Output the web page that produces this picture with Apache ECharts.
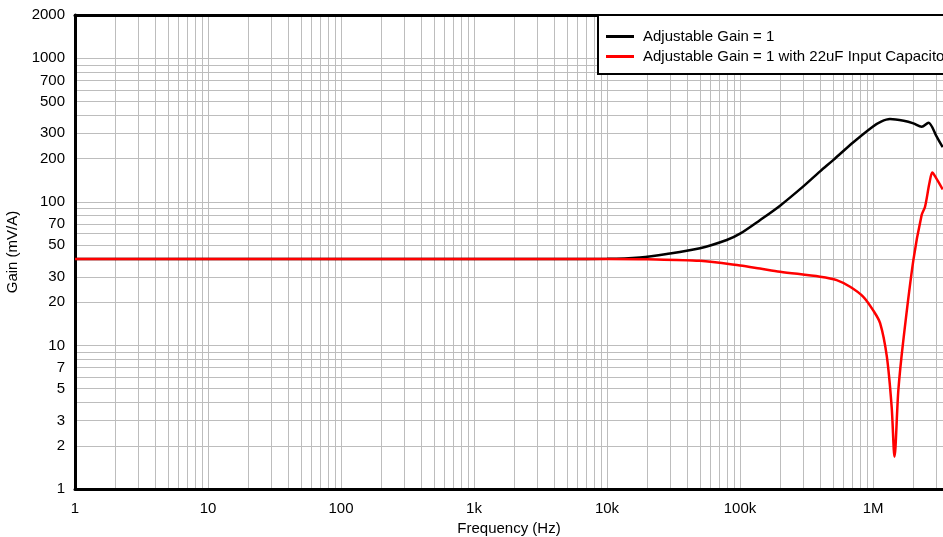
<!DOCTYPE html>
<html>
<head>
<meta charset="utf-8">
<title>Gain vs Frequency</title>
<script src="https://cdn.jsdelivr.net/npm/echarts@6/dist/echarts.min.js"></script>
<style>
  html, body { margin: 0; padding: 0; background: #fff; }
  #chart { width: 943px; height: 537px; }
</style>
</head>
<body>
<div id="chart"></div>
<script>
// black curve: Adjustable Gain = 1
var freqBase = [1, 10, 100, 1000, 5000, 10000, 17700, 28100, 50000, 79400, 100000,
  141000, 200000, 299000, 400000, 504000, 711000, 1000000, 1150000, 1340000, 1700000,
  2010000, 2320000, 2610000, 3010000, 3340000];
var gainBase = [40, 40, 40, 40, 40, 40.1, 41, 43.3, 47.5, 54.2, 60,
  74.5, 94, 128, 163, 196, 260, 335, 362, 377, 367,
  352, 333, 356, 284, 240];

// red curve: with 22uF input capacitor
var freqCap = [1, 10, 100, 1000, 10000, 20000, 50000, 100000, 141000, 200000, 400000,
  533000, 672000, 845000, 1000000, 1130000, 1270000, 1380000, 1450000, 1550000, 1690000,
  2010000, 2320000, 2460000, 2650000, 2790000, 2960000, 3340000];
var gainCap = [40, 40, 40, 40, 40, 39.8, 38.8, 36, 34.3, 32.6, 30.1,
  28.5, 25.6, 21.8, 17.6, 14.3, 8.35, 3.74, 1.68, 4.89, 10.9,
  39.3, 80.9, 92.5, 134, 160, 148, 122];

var xLabels = [1, 10, 100, 1000, 10000, 100000, 1000000];
var xGrid = [1, 2, 3, 4, 5, 6, 7, 8, 9, 10, 20, 30, 40, 50, 60, 70, 80, 90,
  100, 200, 300, 400, 500, 600, 700, 800, 900,
  1000, 2000, 3000, 4000, 5000, 6000, 7000, 8000, 9000,
  10000, 20000, 30000, 40000, 50000, 60000, 70000, 80000, 90000,
  100000, 200000, 300000, 400000, 500000, 600000, 700000, 800000, 900000,
  1000000, 2000000, 3000000];
var yLabels = [1, 2, 3, 5, 7, 10, 20, 30, 50, 70, 100, 200, 300, 500, 700, 1000, 2000];
var yGrid = [1, 2, 3, 4, 5, 6, 7, 8, 9, 10, 20, 30, 40, 50, 60, 70, 80, 90,
  100, 200, 300, 400, 500, 600, 700, 800, 900, 1000, 2000];

var xMax = 3357000;

function freqName(v) {
  if (v >= 1000000) return (v / 1000000) + 'M';
  if (v >= 1000) return (v / 1000) + 'k';
  return '' + v;
}

function pairs(xs, ys) {
  return xs.map(function (x, i) { return [x, ys[i]]; });
}

var font = 'Liberation Sans, Arial, sans-serif';

var myChart = echarts.init(document.getElementById('chart')),
  option = {
    animation: false,
    grid: {
      left: 75,
      right: 0,
      top: 15,
      bottom: 48,
      outerBoundsMode: 'none'
    },
    legend: {
      orient: 'vertical',
      left: 598,
      top: 15,
      backgroundColor: '#fff',
      borderColor: '#000',
      borderWidth: 2,
      borderRadius: 0,
      padding: [14, 400, 10, 8],
      itemGap: 5,
      itemWidth: 28,
      itemHeight: 3,
      icon: 'rect',
      textStyle: {
        fontFamily: font,
        fontSize: 15,
        color: '#000',
        padding: [0, 0, 0, 4]
      },
      data: ['Adjustable Gain = 1', 'Adjustable Gain = 1 with 22uF Input Capacitor']
    },
    xAxis: [{
      type: 'log',
      min: 1,
      max: xMax,
      name: 'Frequency (Hz)',
      nameLocation: 'middle',
      nameGap: 32,
      nameTextStyle: { fontFamily: font, fontSize: 15, color: '#000' },
      axisLine: { onZero: false, lineStyle: { color: '#000', width: 3 } },
      axisTick: { show: false, customValues: xGrid },
      axisLabel: {
        customValues: xLabels,
        fontFamily: font,
        fontSize: 15,
        color: '#000',
        margin: 12,
        formatter: freqName
      },
      splitLine: { show: true, lineStyle: { color: '#bdbdbd', width: 1 } }
    }, {
      type: 'log',
      min: 1,
      max: xMax,
      position: 'top',
      axisLine: { onZero: false, lineStyle: { color: '#000', width: 3 } },
      axisTick: { show: false },
      axisLabel: { show: false },
      splitLine: { show: false }
    }],
    yAxis: {
      type: 'log',
      min: 1,
      max: 2000,
      name: 'Gain (mV/A)',
      nameLocation: 'middle',
      nameGap: 52,
      nameTextStyle: { fontFamily: font, fontSize: 15, color: '#000' },
      axisLine: { show: true, onZero: false, lineStyle: { color: '#000', width: 3 } },
      axisTick: { show: false, customValues: yGrid },
      axisLabel: {
        customValues: yLabels,
        fontFamily: font,
        fontSize: 15,
        color: '#000',
        margin: 10,
        formatter: function (v) { return String(v); }
      },
      splitLine: { show: true, lineStyle: { color: '#bdbdbd', width: 1 } }
    },
    series: [{
      name: 'Adjustable Gain = 1',
      type: 'line',
      symbol: 'none',
      smooth: 0.3,
      color: '#000',
      lineStyle: { color: '#000', width: 2.5 },
      data: pairs(freqBase, gainBase)
    }, {
      name: 'Adjustable Gain = 1 with 22uF Input Capacitor',
      type: 'line',
      symbol: 'none',
      smooth: 0.3,
      color: '#ff0000',
      lineStyle: { color: '#ff0000', width: 2.5 },
      data: pairs(freqCap, gainCap)
    }]
  };
myChart.setOption(option, true);
</script>
</body>
</html>
